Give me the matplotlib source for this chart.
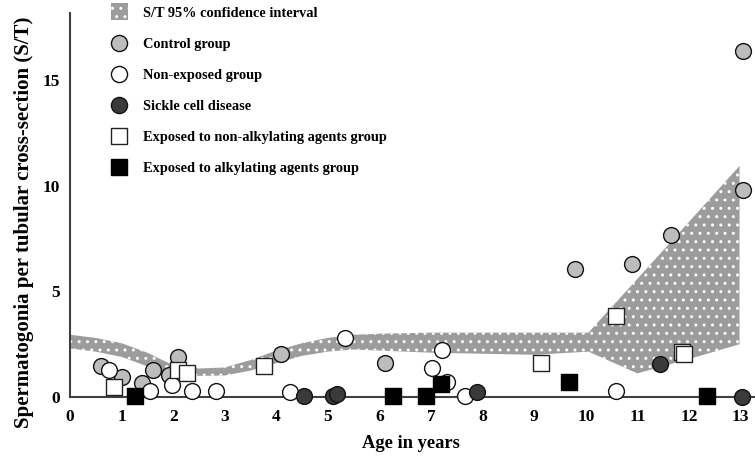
import numpy as np
import matplotlib
matplotlib.use("Agg")
import matplotlib.pyplot as plt
import matplotlib.patches as mpatches
from matplotlib.lines import Line2D
from matplotlib.legend_handler import HandlerPatch

# 95% confidence band
band_age = [0, 0.5, 1, 1.5, 2, 2.5, 3, 3.5, 4, 4.5, 5, 5.5, 6, 7, 8, 9, 10.05, 11, 12, 12.98]
band_upper = [2.95, 2.8, 2.55, 2.1, 1.5, 1.35, 1.4, 1.75, 2.2, 2.55, 2.8, 2.95, 3.0, 3.05,
              3.05, 3.05, 3.05, 5.6, 8.3, 10.95]
band_lower = [2.3, 2.15, 1.9, 1.45, 1.05, 1.0, 1.02, 1.25, 1.6, 1.95, 2.15, 2.25, 2.2, 2.1,
              2.05, 2.0, 2.15, 1.12, 1.8, 2.5]

control_age = [0.61, 1.0, 1.39, 1.61, 1.91, 2.10, 4.10, 6.10, 9.79, 10.89, 11.66, 13.05, 13.05]
control_st = [1.47, 0.96, 0.68, 1.28, 1.04, 1.91, 2.03, 1.63, 6.05, 6.30, 7.68, 9.81, 16.41]

nonexp_age = [0.76, 1.56, 1.97, 2.36, 2.84, 4.26, 5.33, 7.01, 7.22, 7.30, 7.65, 10.59]
nonexp_st = [1.28, 0.28, 0.57, 0.28, 0.28, 0.22, 2.78, 1.36, 2.24, 0.70, 0.06, 0.28]

sickle_age = [4.53, 5.09, 5.17, 7.89, 11.43, 13.03]
sickle_st = [0.05, 0.05, 0.12, 0.22, 1.55, 0.0]

nonalk_age = [0.86, 2.09, 2.26, 3.77, 9.13, 10.58, 11.87, 11.91]
nonalk_st = [0.49, 1.28, 1.12, 1.48, 1.60, 3.84, 2.15, 2.02]

alk_age = [1.26, 6.27, 6.90, 7.20, 9.67, 12.34]
alk_st = [0.05, 0.06, 0.06, 0.62, 0.73, 0.07]

x_ticks = list(range(0, 14))
y_ticks = [0, 5, 10, 15]

plt.rcParams["font.family"] = ["Liberation Serif", "DejaVu Serif"]
plt.rcParams["font.weight"] = "bold"
plt.rcParams["hatch.linewidth"] = 1.0

fig = plt.figure(figsize=(7.55, 4.57), dpi=100)
ax = fig.add_axes([0.0927, 0.1313, 0.9073, 0.8403])

band_col = "#9c9c9c"
ax.fill_between(band_age, band_lower, band_upper, facecolor=band_col,
                edgecolor="white", hatch="..", linewidth=0, zorder=1)

ms = 130
lw = 1.0
ax.scatter(control_age, control_st, s=ms, marker="o", facecolor="#bdbdbd",
           edgecolor="#111111", linewidth=lw, zorder=3, clip_on=False)
ax.scatter(nonexp_age, nonexp_st, s=ms, marker="o", facecolor="white",
           edgecolor="#111111", linewidth=lw, zorder=3, clip_on=False)
ax.scatter(sickle_age, sickle_st, s=ms, marker="o", facecolor="#3a3a3a",
           edgecolor="#111111", linewidth=lw, zorder=3, clip_on=False)
ax.scatter(nonalk_age, nonalk_st, s=ms, marker="s", facecolor="white",
           edgecolor="#222222", linewidth=lw, zorder=3, clip_on=False)
ax.scatter(alk_age, alk_st, s=ms, marker="s", facecolor="black",
           edgecolor="black", linewidth=lw, zorder=3, clip_on=False)

ax.set_xlim(0, 13.28)
ax.set_ylim(0, 18.2)
ax.set_xticks(x_ticks)
ax.set_yticks(y_ticks)
ax.tick_params(length=0, labelsize=12.5)
ax.tick_params(axis="x", pad=9)
ax.tick_params(axis="y", pad=7)
for sp in ["top", "right"]:
    ax.spines[sp].set_visible(False)
for sp in ["left", "bottom"]:
    ax.spines[sp].set_color("#404040")
    ax.spines[sp].set_linewidth(1.5)
    ax.spines[sp].set_zorder(2)

ax.set_xlabel("Age in years", fontsize=13.3, fontweight="bold")
ax.xaxis.set_label_coords(0.498, -0.100)
ax.set_ylabel("Spermatogonia per tubular cross-section (S/T)", fontsize=15,
              fontweight="bold")
ax.yaxis.set_label_coords(-0.052, 0.456)


def square_patch(legend, orig_handle, xdescent, ydescent, width, height, fontsize):
    s = 12.2
    return mpatches.Rectangle((width / 2 - xdescent - s / 2, height / 2 - ydescent - s / 2), s, s)


band_handle = mpatches.Patch(facecolor=band_col, edgecolor="white", hatch="..", linewidth=0)
mk = 11.6
handles = [
    band_handle,
    Line2D([], [], ls="none", marker="o", ms=mk, mfc="#bdbdbd", mec="#111111", mew=lw),
    Line2D([], [], ls="none", marker="o", ms=mk, mfc="white", mec="#111111", mew=lw),
    Line2D([], [], ls="none", marker="o", ms=mk, mfc="#3a3a3a", mec="#111111", mew=lw),
    Line2D([], [], ls="none", marker="s", ms=mk, mfc="white", mec="#222222", mew=lw),
    Line2D([], [], ls="none", marker="s", ms=mk, mfc="black", mec="black", mew=lw),
]
labels = [
    "S/T 95% confidence interval",
    "Control group",
    "Non-exposed group",
    "Sickle cell disease",
    "Exposed to non-alkylating agents group",
    "Exposed to alkylating agents group",
]
fig.legend(handles, labels, loc="upper left", bbox_to_anchor=(0.143, 0.986),
           bbox_transform=fig.transFigure, frameon=False,
           prop={"weight": "bold", "size": 10.4}, borderpad=0, borderaxespad=0,
           handlelength=1.55, handletextpad=0.9, labelspacing=1.25,
           handler_map={mpatches.Patch: HandlerPatch(patch_func=square_patch)})

plt.savefig("out.png", dpi=100)
plt.close()
